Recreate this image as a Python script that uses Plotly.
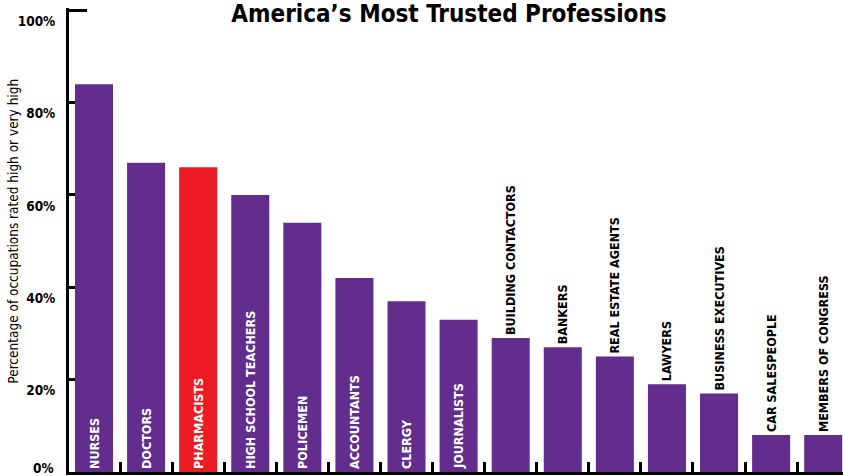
import plotly.graph_objects as go

categories = ["NURSES", "DOCTORS", "PHARMACISTS", "HIGH SCHOOL TEACHERS", "POLICEMEN",
              "ACCOUNTANTS", "CLERGY", "JOURNALISTS", "BUILDING CONTACTORS", "BANKERS",
              "REAL ESTATE AGENTS", "LAWYERS", "BUSINESS EXECUTIVES", "CAR SALESPEOPLE",
              "MEMBERS OF CONGRESS"]
values = [84, 67, 66, 60, 54, 42, 37, 33, 29, 27, 25, 19, 17, 8, 8]
tick_vals = [0, 20, 40, 60, 80, 100]
tick_text = ["0%", "20%", "40%", "60%", "80%", "100%"]

PURPLE = "#622d8d"
RED = "#ed1c24"
FONT = "Liberation Sans Narrow, DejaVu Sans Condensed, Arial Narrow, sans-serif"
TICKFONT = dict(family=FONT, size=13.5, color="black", weight="bold")

colors = [RED if c == "PHARMACISTS" else PURPLE for c in categories]
positions = ["inside" if v > 30 else "outside" for v in values]
text_colors = ["white" if p == "inside" else "black" for p in positions]

fig = go.Figure(go.Bar(
    x=categories, y=values, text=categories,
    marker=dict(color=colors, line=dict(width=0)),
    textposition=positions, textangle=-90, insidetextanchor="start",
    constraintext="none", cliponaxis=False,
    textfont=dict(family=FONT, size=12.5, color=text_colors, weight="bold"),
    hoverinfo="skip",
))

# the 0% label sits on the baseline (not shifted like the others)
shown_ticktext = [""] + tick_text[1:]

fig.update_layout(
    width=843, height=476,
    margin=dict(l=69, r=0, t=8, b=4, autoexpand=False),
    paper_bgcolor="white", plot_bgcolor="white",
    bargap=0.27, showlegend=False,
    title=dict(text="<b>America’s Most Trusted Professions</b>",
               xref="container", x=449 / 843, xanchor="center",
               yref="container", y=1 - 14 / 476, yanchor="middle",
               font=dict(family=FONT, size=24, color="black")),
    xaxis=dict(range=[-0.48, 14.38], showticklabels=False, showgrid=False,
               showline=True, linecolor="black", linewidth=3, automargin=False,
               ticks="inside", tickson="boundaries", ticklen=10, tickwidth=3,
               tickcolor="black", layer="above traces", fixedrange=True),
    yaxis=dict(range=[0, 100.5], tickvals=tick_vals, ticktext=shown_ticktext,
               showgrid=False, zeroline=False, automargin=False,
               showline=True, linecolor="black", linewidth=3,
               ticks="inside", ticklen=18, tickwidth=3, tickcolor="black",
               ticklabelshift=11, ticklabelstandoff=8, ticklabeloverflow="allow",
               tickfont=TICKFONT,
               layer="below traces", fixedrange=True),
    annotations=[
        dict(text="Percentage of occupations rated high or very high",
             xref="paper", yref="paper", x=(13 - 69) / 774, y=0.518,
             xanchor="center", yanchor="middle", textangle=-90, showarrow=False,
             font=dict(family=FONT, size=13.5, color="black")),
        dict(text=tick_text[0], xref="paper", yref="y", x=(56 - 69) / 774, y=tick_vals[0],
             xanchor="right", yanchor="middle", yshift=4, showarrow=False,
             font=TICKFONT),
    ],
)

fig.write_html("out.html")
